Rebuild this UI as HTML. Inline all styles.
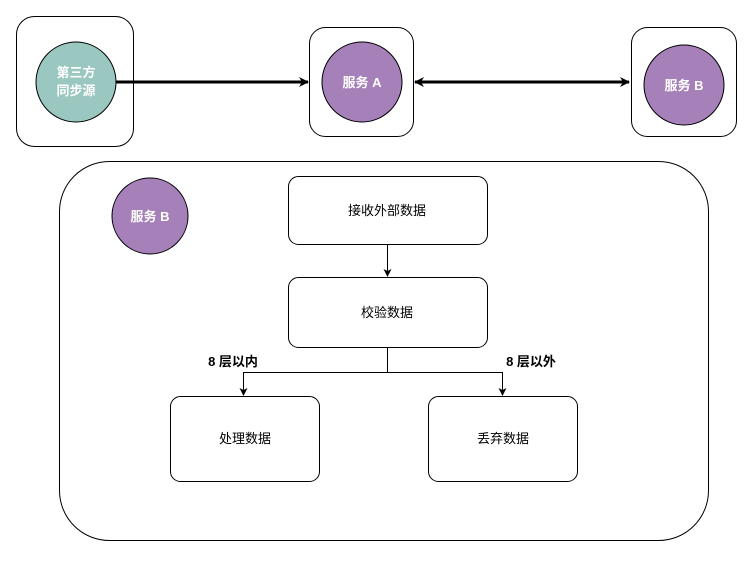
<!DOCTYPE html>
<html><head><meta charset="utf-8"><style>html,body{margin:0;background:#fff}svg text{font-family:"Liberation Sans","Noto Sans CJK SC",sans-serif}</style></head><body>
<svg width="751" height="556" viewBox="0 0 751 556" xmlns="http://www.w3.org/2000/svg">
<defs>
<marker id="big" markerWidth="10" markerHeight="10" refX="9" refY="5" orient="auto" markerUnits="userSpaceOnUse"><path d="M0,0 L10,5 L0,10 L3,5 Z" fill="#000"/></marker>
<marker id="bigs" markerWidth="10" markerHeight="10" refX="1" refY="5" orient="auto" markerUnits="userSpaceOnUse"><path d="M10,0 L0,5 L10,10 L7,5 Z" fill="#000"/></marker>
<marker id="sm" markerWidth="8" markerHeight="8" refX="7" refY="4" orient="auto" markerUnits="userSpaceOnUse"><path d="M0,0 L8,4 L0,8 L2,4 Z" fill="#000"/></marker>
</defs>
<g fill="#fff" stroke="#000" stroke-width="1">
<rect x="16.5" y="16.5" width="117" height="130" rx="18"/>
<rect x="309.5" y="27.5" width="104" height="109" rx="16"/>
<rect x="631.5" y="27.5" width="105" height="109" rx="16"/>
<rect x="59.5" y="161.5" width="649" height="379" rx="50"/>
<rect x="288.5" y="176.5" width="199" height="68" rx="10"/>
<rect x="288.5" y="277.5" width="199" height="70" rx="10"/>
<rect x="170.5" y="396.5" width="149" height="85" rx="10"/>
<rect x="428.5" y="396.5" width="149" height="85" rx="10"/>
</g>
<ellipse cx="76" cy="82" rx="40" ry="40" fill="#9ac7bf" stroke="#000"/>
<ellipse cx="362" cy="82" rx="40" ry="40" fill="#a680b8" stroke="#000"/>
<ellipse cx="684" cy="85" rx="40" ry="40" fill="#a680b8" stroke="#000"/>
<ellipse cx="150" cy="216" rx="38" ry="38" fill="#a680b8" stroke="#000"/>
<line x1="116" y1="82" x2="308" y2="82" stroke="#000" stroke-width="3" marker-end="url(#big)"/>
<line x1="415" y1="82" x2="629" y2="82" stroke="#000" stroke-width="3" marker-start="url(#bigs)" marker-end="url(#big)"/>
<g stroke="#000" fill="none" stroke-width="1">
<line x1="387.5" y1="244" x2="387.5" y2="276" marker-end="url(#sm)"/>
<polyline points="387.5,347 387.5,372.5 243.5,372.5 243.5,395" marker-end="url(#sm)"/>
<polyline points="387.5,372.5 502.5,372.5 502.5,395" marker-end="url(#sm)"/>
</g>
<g font-size="13" font-weight="bold" fill="#fff" text-anchor="middle">
<text x="76" y="77">第三方</text><text x="76" y="95">同步源</text>
<text x="362" y="87">服务 A</text>
<text x="684" y="90">服务 B</text>
<text x="150" y="221">服务 B</text>
</g>
<g font-size="13" fill="#000" text-anchor="middle">
<text x="387" y="215">接收外部数据</text>
<text x="387" y="317">校验数据</text>
<text x="245" y="443">处理数据</text>
<text x="503" y="443">丢弃数据</text>
<text x="233" y="366" font-weight="bold">8 层以内</text>
<text x="531" y="366" font-weight="bold">8 层以外</text>
</g>
</svg>
</body></html>
